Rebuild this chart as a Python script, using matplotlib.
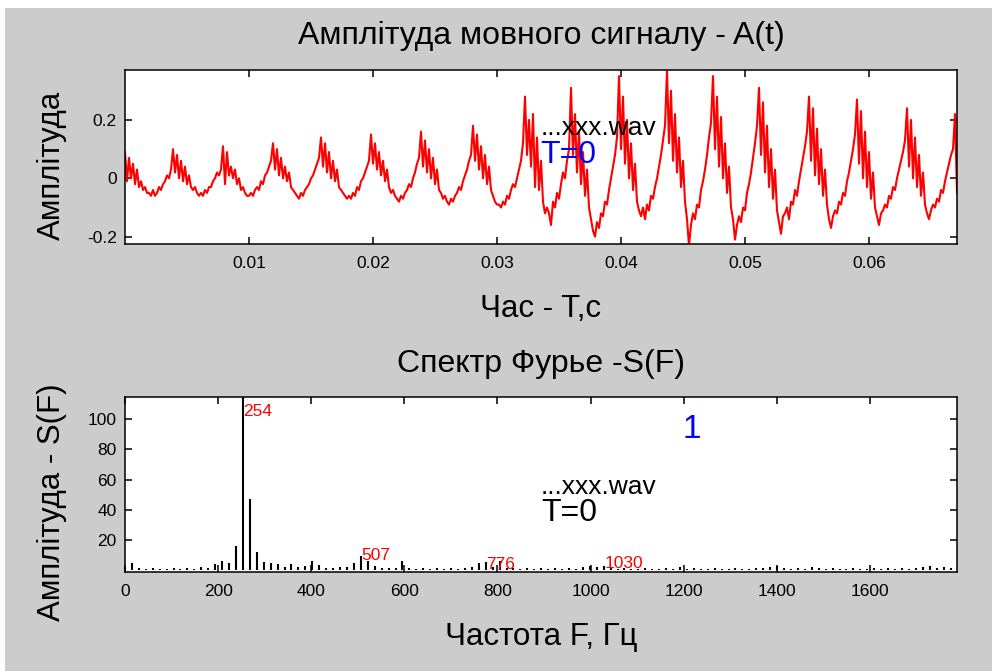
import matplotlib
matplotlib.use('Agg')
import matplotlib.pyplot as plt
from matplotlib.patches import Rectangle
import numpy as np

plt.rcParams['font.family'] = ['Liberation Sans', 'DejaVu Sans']
plt.rcParams['axes.unicode_minus'] = False

# waveform samples (x0.01), one value every ~0.16 ms
amp_first = [9, -1, 7, 0, 5, -2, 3, -3, -1, -4, -3, -5,
             -5, -6, -4, -6, -5, -3, -4, -2, -1, 1, 0, 3, 10, 2, 8, 0, 6, -1, 4, -2, 1, -3, -4, -3, -5,
             -6, -5, -6, -4, -5, -3, -3, -1, 0, 2, 1, 3, 11, -2, 9, 1, 4, 0, 3, -2, 0, -4, -3, -5, -6,
             -6, -5, -6, -4, -3, -4, -1, -2, 1, 2, 4, 6, 12, 3, 10, 1, 7, 0, 4, -1, 2, -3, -4, -5, -6,
             -7, -5, -6, -4, -3, -2, 0, 1, 3, 5, 7, 14, 4, 12, 2, 9, 0, 6, -1, 3, -3, -4, -5, -6,
             -7, -6, -7, -5, -6, -3, -4, -1, 0, 2, 4, 6, 15, 5, 12, 3, 9, 1, 6, -1, 3, -3, -5, -4, -6,
             -7, -8, -6, -7, -5, -4, -2, -3, 0, 2, 5, 7, 16, 4, 13, 2, 10, 0, 7, -2, 3, -4, -5, -7, -6,
             -8, -9, -7, -8, -6, -5, -3, -4, -1, 1, 3, 6, 8, 18, 6, 15, 3, 11, 0, 8, -2, 4, -4, -6, -8, -9,
             -9, -10, -8, -9, -6, -7, -4, -2, -3, 0, 3, 6, 12, 28, 8, 20, 4, 22, -3, 14, -4, 6, -8, -12, -10]
amp_second = [-12, -16, -8, -10, -5, -7, -2, 2, 0, 6, 10, 31, 8, 22, 2, 16, -2, 9, -6, 3, -10, -14, -18,
              -20, -15, -17, -12, -13, -8, -9, -4, 0, 4, 8, 14, 35, 10, 28, 5, 20, 0, 12, -4, 5, -8, -11, -13,
              -10, -14, -9, -11, -6, -7, -3, 0, 4, 8, 13, 18, 37, 12, 30, 6, 22, 2, 14, -3, 6, -8, -14, -23,
              -16, -12, -14, -9, -10, -4, -1, 3, 8, 14, 19, 35, 10, 28, 4, 21, 0, 12, -5, 4, -10, -14, -21,
              -16, -13, -15, -10, -11, -5, -2, 2, 7, 12, 18, 31, 8, 26, 2, 18, -3, 10, -7, 3, -11, -15, -19, -13,
              -12, -10, -14, -8, -9, -4, -6, -1, 3, 7, 11, 16, 28, 6, 24, 1, 17, -2, 10, -6, 3, -9, -14, -17,
              -13, -11, -12, -8, -9, -5, -6, -1, 2, 6, 10, 15, 27, 5, 23, 0, 16, -3, 9, -7, 2, -10, -13, -16, -12,
              -11, -9, -10, -6, -7, -3, -4, 0, 3, 6, 9, 13, 24, 4, 20, 0, 14, -3, 8, -6, 2, -9, -12, -14,
              -11, -9, -10, -7, -8, -4, -5, -1, 2, 5, 8, 10, 22, -5]
t_end = 0.0671

# spectrum, one value per FFT bin (bin width ~14.9 Hz)
df = 14.9
spec = [0, 5, 1.5, 1, 1.5, 1, 1, 1.5, 1, 1.5, 1, 2.5, 1.5, 4, 6.5, 5, 16.5, 125, 47, 12,
        5.5, 5, 4.5, 2, 4, 2, 3, 6.5, 3.5, 1.5, 1.5, 2, 2.5, 5, 9.5, 6.5, 3, 1.5, 1.5, 1.5,
        6.5, 1.5, 1, 1.5, 1, 1.5, 1, 1.5, 1, 1.5, 2, 5, 5.5, 2, 6, 1.5, 1.5, 1, 1.5, 1,
        1.5, 1, 1.5, 1, 1.5, 1, 2, 3, 2, 3, 1.5, 1, 1.5, 1, 1, 1.5, 1, 1, 1.5, 1,
        2, 1, 1.5, 1, 1, 1.5, 1, 1, 1.5, 1, 1, 1.5, 1.5, 2, 3, 1.5, 1, 1.5, 1, 2.5,
        1.5, 1, 1.5, 1, 1, 1.5, 1, 1, 1.5, 1, 1.5, 1, 1.5, 1, 1.5, 2, 3, 1.5, 2, 1.5]
peak_f = [254, 507, 776, 1030]
peak_label_y = [105, 10, 3.7, 4.4]

amp = np.array(amp_first + amp_second) / 100.0
t = np.linspace(0, t_end, len(amp))
freqs = np.arange(len(spec)) * df

gray = '#cccccc'
fig = plt.figure(figsize=(9.92, 6.71), dpi=100, facecolor='white')
fig.patches.append(Rectangle((5 / 992, 0), 1, 1 - 8 / 671, transform=fig.transFigure,
                             facecolor=gray, edgecolor='none', zorder=-1))

ax1 = fig.add_axes([125 / 992, 1 - 244 / 671, 832 / 992, 174 / 671])
ax2 = fig.add_axes([125 / 992, 1 - 572 / 671, 832 / 992, 175 / 671])

for ax in (ax1, ax2):
    ax.tick_params(direction='in', top=True, right=True, length=5, width=1.1,
                   labelsize=12.5, pad=9)
    ax.tick_params(axis='y', pad=6)
    for s in ax.spines.values():
        s.set_linewidth(1.1)

# top: waveform
ax1.plot(t, amp, color='red', lw=1.5)
ax1.set_xlim(0, t_end)
ax1.set_ylim(-0.225, 0.371)
ax1.set_xticks([0.01, 0.02, 0.03, 0.04, 0.05, 0.06])
ax1.set_yticks([-0.2, 0, 0.2])
ax1.set_yticklabels(['-0.2', '0', '0.2'])
ax1.set_title('Амплітуда мовного сигналу - A(t)', fontsize=23, pad=19)
ax1.set_xlabel('Час - T,c', fontsize=22.5, va='center')
ax1.xaxis.set_label_coords(0.5, -65 / 174)
ax1.set_ylabel('Амплітуда', fontsize=22.5, va='center')
ax1.yaxis.set_label_coords(-73 / 832, 79 / 174)
ax1.text(0.0335, 0.172, '...xxx.wav', fontsize=19, va='center', ha='left')
ax1.text(0.0335, 0.08, 'T=0', fontsize=23, va='center', ha='left', color='blue')

# bottom: spectrum
ax2.vlines(freqs, 0, spec, color='black', lw=1.5)
ax2.set_xlim(0, 1787)
ax2.set_ylim(-1, 114.7)
ax2.set_xticks(np.arange(0, 1601, 200))
ax2.set_yticks([20, 40, 60, 80, 100])
ax2.set_title('Спектр Фурье -S(F)', fontsize=23, pad=18)
ax2.set_xlabel('Частота F, Гц', fontsize=22.5, va='center')
ax2.xaxis.set_label_coords(0.5, -65 / 175)
ax2.set_ylabel('Амплітуда - S(F)', fontsize=22.5, va='center')
ax2.yaxis.set_label_coords(-73 / 832, 0.4)
for f, y in zip(peak_f, peak_label_y):
    ax2.text(f, y, str(f), color='red', fontsize=12.5, va='center', ha='left')
ax2.text(893, 55, '...xxx.wav', fontsize=19, va='center', ha='left')
ax2.text(893, 38, 'T=0', fontsize=23, va='center', ha='left')
ax2.text(1198, 93, '1', fontsize=24, va='center', ha='left', color='blue')

fig.savefig('out.png', dpi=100, facecolor=fig.get_facecolor())
